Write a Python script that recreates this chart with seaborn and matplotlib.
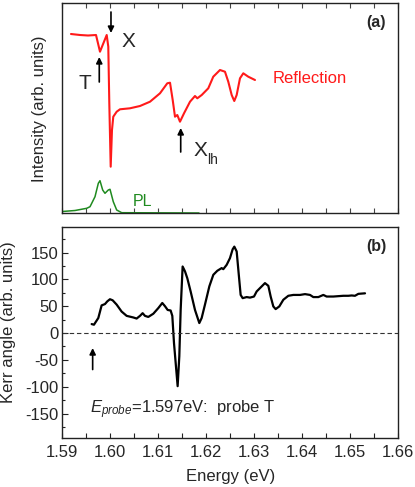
import numpy as np
import pandas as pd
import matplotlib
matplotlib.use("Agg")
import matplotlib.pyplot as plt
import seaborn as sns
from matplotlib.ticker import MultipleLocator

# ---------------- data ----------------
refl_E = [1.59181, 1.59369, 1.59536, 1.59703, 1.59786, 1.59842, 1.59926, 1.59959,
          1.59980, 1.60009, 1.60036, 1.60063, 1.60134, 1.60203, 1.60411, 1.60620,
          1.60829, 1.61037, 1.61189, 1.61246, 1.61302, 1.61350, 1.61398, 1.61454,
          1.61538, 1.61663, 1.61767, 1.61815, 1.61907, 1.62044, 1.62148, 1.62288,
          1.62392, 1.62461, 1.62532, 1.62586, 1.62636, 1.62705, 1.62774, 1.62878,
          1.63018]
refl_I = [179.3, 178.3, 177.8, 178.3, 161.6, 168.3, 178.3, 166.6,
          110.3, 46.6, 83.3, 96.6, 101.6, 104.0, 105.0, 107.3,
          111.6, 120.0, 130.0, 130.6, 113.3, 96.6, 98.3, 91.6,
          100.0, 111.6, 117.3, 115.0, 118.3, 125.0, 136.6, 143.3,
          141.6, 131.6, 118.3, 112.3, 118.3, 135.0, 140.0, 136.6,
          133.3]

pl_E = [1.5900, 1.59265, 1.59509, 1.59578, 1.59682, 1.59751, 1.59786, 1.59842,
        1.59890, 1.59959, 1.59995, 1.60063, 1.60134, 1.60239, 1.61850]
pl_I = [1.8, 2.8, 5.0, 6.6, 16.6, 30.0, 32.6, 23.3,
        20.0, 23.3, 24.0, 11.6, 3.3, 0.6, 0.3]

kerr_E = [1.59612, 1.59660, 1.59751, 1.59820, 1.59890, 1.59938, 1.59994, 1.60050,
          1.60133, 1.60237, 1.60342, 1.60481, 1.60550, 1.60620, 1.60675, 1.60724,
          1.60793, 1.60898, 1.61002, 1.61085, 1.61141, 1.61197, 1.61259, 1.61294,
          1.61329, 1.61370, 1.61405, 1.61440, 1.61468, 1.61509, 1.61558, 1.61607,
          1.61676, 1.61767, 1.61857, 1.61906, 1.61975, 1.62066, 1.62149, 1.62232,
          1.62323, 1.62357, 1.62427, 1.62496, 1.62552, 1.62587, 1.62636, 1.62677,
          1.62719, 1.62761, 1.62844, 1.62914, 1.62997, 1.63053, 1.63122, 1.63226,
          1.63296, 1.63345, 1.63400, 1.63449, 1.63525, 1.63609, 1.63713, 1.63817,
          1.63956, 1.64061, 1.64165, 1.64234, 1.64339, 1.64443, 1.64512, 1.64651,
          1.64860, 1.64964, 1.65034, 1.65103, 1.65173, 1.65312]
kerr_K = [16.7, 15.5, 28.0, 51.5, 54.0, 59.0, 63.0, 61.0,
          53.0, 40.0, 32.0, 29.0, 27.0, 32.0, 37.0, 32.0,
          30.0, 36.0, 46.5, 56.0, 50.0, 43.0, 42.0, 32.0,
          -18.6, -62.0, -99.0, -43.0, 43.0, 124.0, 115.0, 102.0,
          77.5, 43.0, 18.6, 28.0, 53.0, 87.0, 108.5, 116.0,
          121.0, 119.0, 127.0, 139.5, 156.0, 161.0, 152.0, 111.6,
          71.0, 65.0, 67.0, 66.0, 68.0, 77.5, 83.7, 93.0,
          88.0, 68.0, 49.6, 44.6, 49.6, 62.0, 69.4, 71.0,
          71.0, 72.5, 71.0, 67.0, 67.0, 71.0, 68.0, 68.0,
          69.4, 69.4, 70.0, 69.4, 73.0, 74.0]

x_ticks = [1.59, 1.60, 1.61, 1.62, 1.63, 1.64, 1.65, 1.66]
x_tick_labels = ["1.59", "1.60", "1.61", "1.62", "1.63", "1.64", "1.65", "1.66"]
kerr_ticks = [-150, -100, -50, 0, 50, 100, 150]
kerr_tick_labels = ["-150", "-100", "-50", "0", "50", "100", "150"]

refl_df = pd.DataFrame({"E": refl_E, "I": refl_I})
pl_df = pd.DataFrame({"E": pl_E, "I": pl_I})
kerr_df = pd.DataFrame({"E": kerr_E, "K": kerr_K})

# ---------------- style ----------------
sns.set_theme(style="ticks")
plt.rcParams["font.family"] = ["Liberation Sans", "DejaVu Sans"]
plt.rcParams["mathtext.fontset"] = "custom"
plt.rcParams["mathtext.rm"] = "Liberation Sans"
plt.rcParams["mathtext.it"] = "Liberation Sans:italic"
plt.rcParams["axes.linewidth"] = 1.0
plt.rcParams["axes.edgecolor"] = "#222222"

W, H = 415, 487
fig = plt.figure(figsize=(W / 100, H / 100), dpi=100)
L, R = 62.3, 398.0
ax1 = fig.add_axes([L / W, 1 - 213.3 / H, (R - L) / W, (213.3 - 3.3) / H])
ax2 = fig.add_axes([L / W, 1 - 437.7 / H, (R - L) / W, (437.7 - 227.3) / H])

# ---------------- panel (a) ----------------
sns.lineplot(data=refl_df, x="E", y="I", ax=ax1, color="#ff1a1a", lw=1.5,
             estimator=None, sort=False)
sns.lineplot(data=pl_df, x="E", y="I", ax=ax1, color="#1f8a1f", lw=1.1,
             estimator=None, sort=False)
ax1.set_xlim(1.59, 1.66)
ax1.set_ylim(0, 210)
ax1.set_xticks(x_ticks)
ax1.xaxis.set_minor_locator(MultipleLocator(0.005))
ax1.set_xticklabels([])
ax1.set_yticks([])
ax1.set_xlabel("")
ax1.set_ylabel("Intensity (arb. units)", fontsize=12)
ax1.yaxis.set_label_coords(-0.046, 0.5)
ax1.tick_params(axis="x", which="both", direction="in", length=3.5, width=0.8,
                top=True, bottom=True, color="#444444")

ak = dict(arrowstyle="-|>", color="black", lw=1.2, mutation_scale=9,
          shrinkA=0, shrinkB=0)
ax1.annotate("", xy=(1.60015, 180.3), xytext=(1.60015, 201.3), arrowprops=ak)
ax1.annotate("", xy=(1.59771, 156.3), xytext=(1.59771, 131.3), arrowprops=ak)
ax1.annotate("", xy=(1.61469, 85.3), xytext=(1.61469, 61.3), arrowprops=ak)

ax1.text(1.60370, 171.3, "X", fontsize=15, ha="center", va="center")
ax1.text(1.59473, 129.3, "T", fontsize=15, ha="center", va="center")
ax1.text(1.61871, 62.3, "X", fontsize=15, ha="center", va="center")
ax1.text(1.62142, 52.8, "lh", fontsize=10, ha="center", va="center")
ax1.text(1.63378, 134.3, "Reflection", fontsize=12, color="#ff1a1a",
         ha="left", va="center")
ax1.text(1.60476, 11.3, "PL", fontsize=11.5, color="#1f8a1f",
         ha="left", va="center")
ax1.text(1.65541, 190.3, "(a)", fontsize=11.5, fontweight="bold",
         ha="center", va="center")

# ---------------- panel (b) ----------------
sns.lineplot(data=kerr_df, x="E", y="K", ax=ax2, color="black", lw=1.6,
             estimator=None, sort=False)
ax2.axhline(0, color="#333333", lw=0.8, ls=(0, (4, 2.5)))
ax2.set_xlim(1.59, 1.66)
ax2.set_ylim(-195, 197)
ax2.set_xticks(x_ticks)
ax2.set_xticklabels(x_tick_labels)
ax2.xaxis.set_minor_locator(MultipleLocator(0.005))
ax2.set_yticks(kerr_ticks)
ax2.set_yticklabels(kerr_tick_labels)
ax2.yaxis.set_minor_locator(MultipleLocator(25))
ax2.tick_params(axis="x", which="both", direction="in", length=3.5, width=0.8,
                labelsize=12, pad=5, color="#222222")
ax2.tick_params(axis="y", which="major", direction="in", length=4, width=0.8,
                labelsize=12, pad=3, color="#222222")
ax2.tick_params(axis="y", which="minor", direction="in", length=2, width=0.8,
                color="#222222")
ax2.set_xlabel("Energy (eV)", fontsize=12)
ax2.xaxis.set_label_coords(0.5, -0.185)
ax2.xaxis.label.set_va("center")
ax2.set_ylabel("Kerr angle (arb. units)", fontsize=12)
ax2.yaxis.set_label_coords(-0.138, 0.55)

ax2.annotate("", xy=(1.59633, -28), xytext=(1.59633, -68), arrowprops=ak)
ax2.text(1.59577, -142.6, r"$E_{probe}$=1.597eV:  probe T", fontsize=12,
         ha="left", va="center")
ax2.text(1.65555, 161, "(b)", fontsize=11.5, fontweight="bold",
         ha="center", va="center")

fig.savefig("out.png", dpi=100)
